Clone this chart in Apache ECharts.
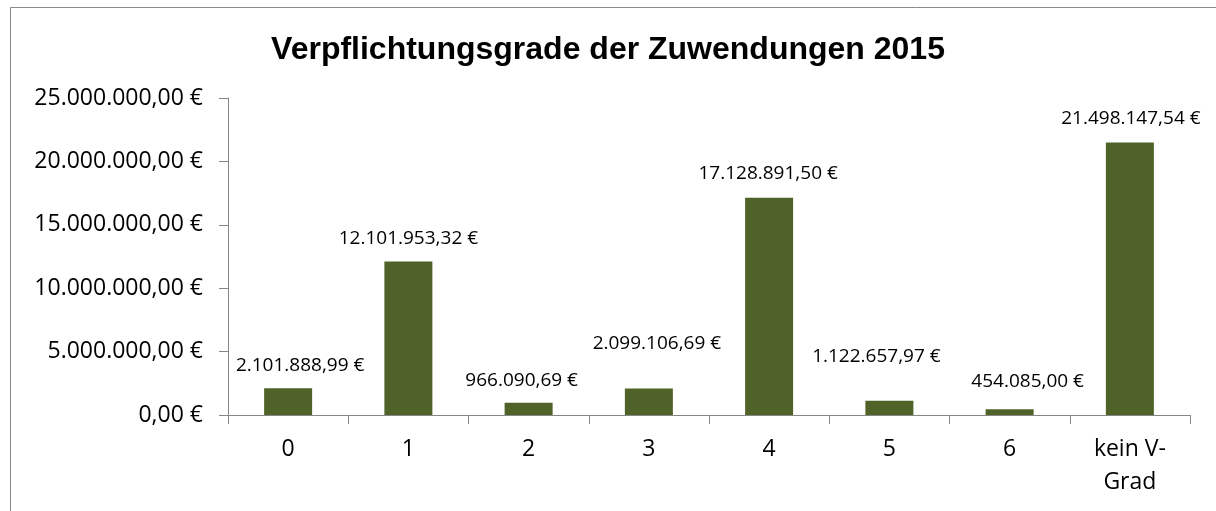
<!DOCTYPE html>
<html lang="de">
<head>
    <meta charset="UTF-8"/>
    <title>Verpflichtungsgrade der Zuwendungen 2015</title>
    <script src="https://cdn.jsdelivr.net/npm/echarts@6/dist/echarts.min.js"></script>
    <style>
        html, body { margin: 0; padding: 0; background: #fff; }
        #main { width: 1216px; height: 511px; }
    </style>
</head>
<body>
<div id="main"></div>
<script type="text/javascript">
    // Kategorien (Verpflichtungsgrad)
    var categories = ['0', '1', '2', '3', '4', '5', '6', 'kein V-\nGrad'];
    // Summen in Euro
    var amounts = [2101888.99, 12101953.32, 966090.69, 2099106.69, 17128891.50, 1122657.97, 454085.00, 21498147.54];
    // Achse
    var yTicks = { min: 0, max: 25000000, step: 5000000 };

    // Beschriftungen wie im Original leicht versetzt [dx, Abstand nach oben]
    var labelShift = [[12, 23], [0, 23], [-7, 23], [8, 45], [-1, 25], [-13, 45], [18, 28], [1, 24]];

    function euro(v) {
        var parts = Number(v).toFixed(2).split('.');
        var intPart = parts[0].replace(/\B(?=(\d{3})+(?!\d))/g, '.');
        return intPart + ',' + parts[1] + ' €';
    }

    var myChart = echarts.init(document.getElementById('main'));

    var barData = amounts.map(function (v, i) {
        return {
            value: v,
            label: { offset: [labelShift[i][0], -(labelShift[i][1] - 10)] }
        };
    });

    var option = {
        animation: false,
        title: {
            text: 'Verpflichtungsgrade der Zuwendungen 2015',
            left: 'center',
            top: 29,
            textStyle: {
                fontFamily: 'Liberation Sans',
                fontWeight: 'bold',
                fontSize: 32,
                color: '#000'
            }
        },
        graphic: [{
            type: 'rect',
            shape: { x: 10.5, y: 7.5, width: 1300, height: 600 },
            style: { fill: 'none', stroke: '#898989', lineWidth: 1 },
            silent: true
        }],
        grid: {
            left: 228,
            right: 26,
            top: 98,
            bottom: 96
        },
        xAxis: {
            type: 'category',
            data: categories,
            axisLine: { lineStyle: { color: '#868686', width: 1 } },
            axisTick: { show: true, length: 9, lineStyle: { color: '#868686' } },
            axisLabel: {
                color: '#000',
                fontFamily: 'Open Sans',
                fontSize: 23,
                lineHeight: 33,
                margin: 18,
                interval: 0
            }
        },
        yAxis: {
            type: 'value',
            min: yTicks.min,
            max: yTicks.max,
            interval: yTicks.step,
            splitLine: { show: false },
            axisLine: { show: true, lineStyle: { color: '#868686', width: 1 } },
            axisTick: { show: true, length: 9, lineStyle: { color: '#868686' } },
            axisLabel: {
                color: '#000',
                fontFamily: 'Open Sans',
                fontSize: 23,
                margin: 25,
                formatter: euro
            }
        },
        series: [{
            type: 'bar',
            data: barData,
            barWidth: 48,
            itemStyle: { color: '#4F6228' },
            label: {
                show: true,
                position: 'top',
                distance: 0,
                color: '#000',
                fontFamily: 'Open Sans',
                fontSize: 19,
                formatter: function (p) { return euro(p.value); }
            }
        }]
    };
    myChart.setOption(option);
</script>
</body>
</html>
